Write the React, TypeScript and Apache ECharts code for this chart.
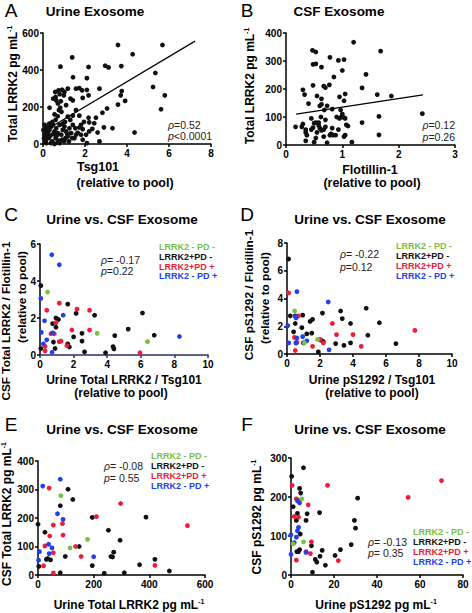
import React, { useEffect, useRef } from "react";
import * as echarts from "echarts";

const FONT = '"Liberation Sans", Arial, Helvetica, sans-serif';
const GREEN = "#79c142";
const BLACK = "#111111";
const RED = "#ee1c3a";
const BLUE = "#1f3ff0";

// Panel A: Urine exosome, Tsg101 vs total LRRK2
const urineExosome: number[][] = [
  [3.57, 535], [5.69, 535], [4.27, 485], [1.39, 468], [0.83, 418], [2.17, 416], [2.96, 423], [3.12, 414],
  [3.73, 421], [5.35, 384], [1.43, 361], [2.09, 356], [0.58, 281], [0.74, 290], [0.91, 293], [1.02, 281],
  [0.6, 254], [0.79, 270], [0.99, 263], [0.49, 245], [0.63, 236], [0.85, 231], [0.71, 219], [0.82, 196],
  [1.18, 299], [1.57, 299], [1.73, 302], [1.86, 290], [2.09, 292], [2.69, 299], [1.31, 245], [1.42, 236],
  [1.89, 249], [2.17, 263], [3.75, 286], [3.7, 263], [3.91, 233], [3.57, 213], [5.24, 308], [5.8, 263],
  [5.62, 188], [3.05, 192], [0.31, 196], [0.76, 183], [0.88, 174], [1.1, 210], [1.57, 183], [1.18, 148],
  [1.42, 153], [1.73, 153], [2.17, 142], [2.52, 142], [2.83, 169], [3.31, 85], [4.36, 62], [2.09, 5],
  [2.69, 14], [2.44, 112], [2.2, 117], [1.81, 103], [1.73, 89], [1.89, 80], [1.54, 85], [0.08, 103],
  [0.13, 85], [0.16, 68], [0.08, 50], [0.24, 59], [0.31, 76], [0.39, 94], [0.47, 103], [0.55, 68],
  [0.63, 85], [0.71, 59], [0.79, 103], [0.87, 50], [0.94, 76], [1.02, 94], [1.1, 68], [1.18, 41],
  [1.26, 85], [1.34, 59], [1.42, 103], [1.5, 32], [1.57, 50], [0.13, 23], [0.28, 32], [0.44, 14],
  [0.6, 32], [0.76, 18], [0.91, 23], [1.07, 32], [1.23, 14], [1.39, 32], [0.16, 5], [0.39, 5],
  [0.55, 0], [0.79, 5], [1.89, 23], [2.05, 50], [1.81, 50], [2.2, 68], [0.05, 30], [0.1, 10],
  [0.2, 40], [0.35, 45], [0.5, 55], [0.65, 45], [0.7, 10], [1.0, 15], [1.15, 55], [0.45, 120],
  [0.6, 130], [0.3, 110], [1.05, 120], [0.95, 110], [2.6, 62], [2.9, 90], [1.65, 60], [1.95, 120],
  [2.35, 82], [0.55, 160], [0.7, 150], [1.3, 130], [0.2, 90], [0.02, 75],
];
const urineFit: number[][] = [[0.28, 85], [7.24, 556]];

// Panel B: CSF exosome, Flotillin-1 vs total LRRK2
const csfExosome: number[][] = [
  [1.2, 367], [0.47, 338], [0.53, 332], [1.68, 335], [0.48, 288], [0.53, 290], [0.63, 278], [0.78, 313],
  [0.93, 302], [1.03, 305], [1.0, 266], [1.42, 252], [0.3, 197], [0.48, 213], [0.67, 210], [0.7, 205],
  [0.77, 215], [0.85, 243], [0.55, 175], [0.63, 165], [0.33, 180], [0.95, 172], [1.05, 182], [1.03, 158],
  [1.35, 204], [1.62, 180], [1.87, 175], [2.42, 112], [1.65, 102], [1.35, 80], [1.65, 36], [1.17, 10],
  [0.6, 140], [0.63, 145], [0.73, 140], [0.68, 125], [0.82, 128], [0.4, 148], [0.45, 95], [0.62, 100],
  [0.7, 90], [0.97, 125], [1.0, 110], [0.98, 100], [1.03, 98], [1.05, 95], [1.07, 72], [1.1, 68],
  [1.05, 35], [1.03, 30], [0.93, 55], [0.95, 95], [0.17, 65], [0.28, 65], [0.3, 75], [0.35, 55],
  [0.35, 45], [0.37, 35], [0.35, 15], [0.45, 55], [0.48, 62], [0.5, 78], [0.53, 80], [0.5, 10],
  [0.53, 25], [0.58, 70], [0.6, 60], [0.63, 52], [0.67, 30], [0.7, 65], [0.73, 8], [0.78, 35],
  [0.8, 40], [0.82, 60], [0.83, 35], [0.88, 35], [0.9, 100], [0.58, 80], [0.67, 55], [0.55, 45],
];
const csfFit: number[][] = [[0.18, 110], [2.43, 179]];

// Panel C: urine total LRRK2/Tsg101 vs CSF total LRRK2/Flotillin-1
const cGreen: number[][] = [[0.45, 3.4], [3.4, 1.17], [6.4, 0.72]];
const cBlack: number[][] = [
  [0.05, 3.75], [0.05, 0.35], [1.65, 2.75], [0.75, 1.7], [0.95, 2.0], [1.1, 1.92], [0.95, 1.5], [0.8, 0.7],
  [0.9, 0.35], [2.15, 2.25], [3.25, 2.15], [6.1, 2.27], [5.25, 1.4], [4.45, 1.05], [6.8, 1.07], [2.5, 1.17],
  [2.0, 0.98], [1.65, 0.6], [1.75, 0.43], [2.5, 0.75], [2.65, 0.17], [3.9, 0.12], [4.35, 0.45], [4.4, 0.33],
];
const cRed: number[][] = [
  [0.4, 2.42], [1.15, 2.8], [2.2, 2.48], [2.95, 2.42], [0.65, 1.15], [0.85, 1.15], [0.95, 1.75], [1.15, 0.72],
  [1.25, 0.75], [1.6, 0.5], [1.9, 1.35], [2.95, 1.35], [0.3, 0.47], [0.3, 0.22], [5.95, 0.12],
];
const cBlue: number[][] = [
  [0.7, 5.42], [1.15, 4.88], [0.05, 3.06], [0.27, 1.85], [0.08, 1.22], [0.4, 0.82], [0.2, 0.6], [0.75, 1.2],
  [0.72, 0.15], [1.38, 2.15], [8.3, 1.0],
];

// Panel D: urine pS1292/Tsg101 vs CSF pS1292/Flotillin-1
const dGreen: number[][] = [[0.46, 3.1], [1.05, 0.8], [1.85, 1.05]];
const dBlack: number[][] = [
  [0.1, 6.85], [0.2, 2.75], [0.5, 2.75], [0.95, 2.8], [0.4, 1.6], [0.5, 2.2], [0.9, 1.9], [1.2, 1.45],
  [1.4, 2.35], [1.55, 2.5], [1.5, 1.5], [2.15, 2.95], [3.25, 3.1], [3.35, 2.55], [3.85, 2.2], [4.8, 3.3],
  [5.6, 2.25], [4.9, 1.35], [6.6, 0.75], [2.95, 0.75], [3.45, 0.62], [3.85, 0.8], [1.9, 0.15], [2.2, 0.9],
  [2.05, 1.0], [1.0, 0.8], [0.55, 0.8],
];
const dRed: number[][] = [
  [0.1, 4.4], [0.7, 2.75], [0.45, 1.2], [0.5, 0.25], [0.6, 0.85], [1.55, 0.55], [2.0, 1.05], [2.2, 0.8],
  [2.75, 2.2], [3.0, 1.4], [4.0, 1.4], [4.5, 0.55], [7.75, 1.7],
];
const dBlue: number[][] = [
  [0.6, 4.5], [2.5, 3.75], [0.5, 2.7], [0.55, 2.6], [0.05, 2.05], [0.1, 0.8], [0.55, 0.8], [0.6, 1.15],
  [0.95, 1.25], [1.2, 0.95], [2.55, 0.3],
];

// Panel E: urine total LRRK2 vs CSF total LRRK2 (pg/mL)
const eGreen: number[][] = [[82, 278], [178, 125], [115, 95]];
const eBlack: number[][] = [
  [0, 178], [3, 30], [25, 150], [35, 58], [45, 53], [30, 55], [80, 243], [108, 301], [125, 265], [195, 202],
  [148, 100], [98, 65], [80, 8], [195, 33], [253, 157], [272, 80], [268, 63], [262, 65], [295, 122], [238, 6],
  [310, 8], [365, 36], [388, 203], [420, 55], [472, 14],
];
const eRed: number[][] = [
  [40, 305], [55, 175], [88, 180], [90, 140], [42, 137], [25, 102], [20, 32], [55, 78], [55, 7], [135, 100],
  [155, 65], [210, 205], [297, 251], [537, 173], [420, 34],
];
const eBlue: number[][] = [
  [17, 312], [80, 336], [70, 215], [90, 195], [38, 108], [50, 95], [40, 75], [5, 82], [2, 52], [200, 64],
];

// Panel F: urine pS1292 vs CSF pS1292 (pg/mL)
const fGreen: number[][] = [[1, 80], [5, 195], [5.8, 85]];
const fBlack: number[][] = [
  [0.3, 253], [1, 175], [5.8, 275], [4, 222], [4.5, 210], [3.5, 190], [2.5, 140], [3, 158], [4.3, 105],
  [7, 140], [7.5, 157], [13.3, 160], [9.5, 75], [10, 7], [11.3, 40], [12, 33], [13.5, 48], [14.5, 63],
  [16, 25], [20.5, 50], [23, 65], [28, 78], [29.5, 140], [30, 120], [31, 197], [3.5, 60], [4, 65], [2.7, 60],
];
const fRed: number[][] = [
  [0.5, 230], [1.5, 150], [2.5, 195], [3.5, 148], [8, 180], [17, 230], [54.5, 199], [70, 242], [9.5, 85],
  [7, 60], [9, 55], [22, 37], [2.5, 38],
];
const fBlue: number[][] = [
  [0, 103], [0, 53], [3, 190], [4, 185], [3.5, 122], [3, 113], [2.5, 97], [1.5, 83], [7, 58],
];

const grids = [
  { left: 43, top: 33, width: 168, height: 111 },
  { left: 286, top: 33, width: 169, height: 112 },
  { left: 40, top: 244, width: 168, height: 111 },
  { left: 287, top: 243, width: 165, height: 111 },
  { left: 38, top: 461, width: 167, height: 114 },
  { left: 291, top: 458, width: 172, height: 117 },
];
const xRanges = [[0, 8, 2], [0, 3, 1], [0, 10, 2], [0, 10, 2], [0, 600, 200], [0, 80, 20]];
const yRanges = [[0, 600, 200], [0, 400, 100], [0, 6, 2], [0, 8, 2], [0, 400, 100], [0, 300, 100]];

const legendLabels = ["LRRK2 - PD -", "LRRK2+PD -", "LRRK2+PD +", "LRRK2 - PD +"];
const legendColors = [GREEN, BLACK, RED, BLUE];

function axis(i: number, r: number[], lineColor = "#000") {
  return {
    type: "value",
    gridIndex: i,
    min: r[0],
    max: r[1],
    interval: r[2],
    axisLine: { show: true, onZero: false, lineStyle: { color: lineColor, width: 1.5 } },
    axisTick: { show: true, inside: false, length: 3, lineStyle: { color: lineColor, width: 1.5 } },
    axisLabel: { fontFamily: FONT, fontWeight: "bold", fontSize: 10, color: "#000", margin: 4 },
    splitLine: { show: false },
  };
}

function txt(text: string, x: number, y: number, size: number, opts: any = {}) {
  return {
    type: "text",
    x,
    y,
    rotation: opts.rotation || 0,
    style: {
      text,
      font: `${opts.weight || "bold"} ${size}px ${FONT}`,
      fill: opts.fill || "#000",
      textAlign: opts.align || "center",
      textVerticalAlign: "middle",
    },
  };
}

// label with a superscript "-1" (pg mL^-1)
function unitTxt(base: string, x: number, y: number, size: number, rotation = 0) {
  return {
    type: "text",
    x,
    y,
    rotation,
    style: {
      text: `{b|${base}}{s|-1}`,
      textAlign: "center",
      textVerticalAlign: "middle",
      rich: {
        b: { fontSize: size, fontWeight: "bold", fontFamily: FONT, fill: "#000", lineHeight: size + 2 },
        s: { fontSize: size * 0.58, fontWeight: "bold", fontFamily: FONT, fill: "#000", verticalAlign: "top", lineHeight: size + 2 },
      },
    },
  };
}

function stat(line: string, x: number, y: number, align = "left") {
  const first = line.slice(0, 1);
  const rest = line.slice(1);
  return {
    type: "text",
    x,
    y,
    style: {
      text: `{i|${first}}{n|${rest}}`,
      textAlign: align,
      textVerticalAlign: "middle",
      rich: {
        i: { fontStyle: "italic", fontSize: 10.5, fontFamily: FONT, fill: "#222" },
        n: { fontSize: 10.5, fontFamily: FONT, fill: "#222" },
      },
    },
  };
}

function legend(x: number, ys: number[]) {
  return legendLabels.map((l, k) => txt(l, x, ys[k], 9, { align: "left", fill: legendColors[k] }));
}

const ROT = Math.PI / 2;

export default function App() {
  const ref = useRef<HTMLDivElement>(null);
  useEffect(() => {
    if (!ref.current) return;
    const chart = echarts.init(ref.current, undefined, { renderer: "svg" });
    const sc = (i: number, data: number[][], color: string) => ({
      type: "scatter",
      xAxisIndex: i,
      yAxisIndex: i,
      data,
      symbolSize: 4.8,
      itemStyle: { color, opacity: 1 },
      silent: true,
    });
    const fit = (i: number, data: number[][]) => ({
      type: "line",
      xAxisIndex: i,
      yAxisIndex: i,
      data,
      symbol: "none",
      lineStyle: { color: "#000", width: 1.2 },
      silent: true,
    });
    const groups = [
      [cGreen, cBlack, cRed, cBlue],
      [dGreen, dBlack, dRed, dBlue],
      [eGreen, eBlack, eRed, eBlue],
      [fGreen, fBlack, fRed, fBlue],
    ];
    const series: any[] = [
      sc(0, urineExosome, BLACK),
      fit(0, urineFit),
      sc(1, csfExosome, BLACK),
      fit(1, csfFit),
    ];
    groups.forEach((g, gi) => {
      [1, 2, 3, 0].forEach((k) => series.push(sc(gi + 2, g[k], legendColors[k])));
    });

    const graphic: any[] = [
      // panel letters
      txt("A", 11, 10, 19, { weight: "normal" }),
      txt("B", 247, 10, 19, { weight: "normal" }),
      txt("C", 11, 214, 19, { weight: "normal" }),
      txt("D", 247, 214, 19, { weight: "normal" }),
      txt("E", 11, 424, 19, { weight: "normal" }),
      txt("F", 247, 424, 19, { weight: "normal" }),
      // titles
      txt("Urine Exosome", 95, 11, 13.5),
      txt("CSF Exosome", 339, 11, 13.5),
      txt("Urine vs. CSF Exosome", 122, 219, 13.5),
      txt("Urine vs. CSF Exosome", 370, 219, 13.5),
      txt("Urine vs. CSF Exosome", 122, 429, 13.5),
      txt("Urine vs. CSF Exosome", 370, 429, 13.5),
      // A axis names
      txt("Tsg101", 98, 167, 12.5),
      txt("(relative to pool)", 125, 183, 12.5),
      unitTxt("Total LRRK2 pg mL", 13, 84, 12, ROT),
      // B axis names
      txt("Flotillin-1", 370, 170, 12.5),
      txt("(relative to pool)", 372, 183, 12.5),
      unitTxt("Total LRRK2 pg mL", 250, 86, 12, ROT),
      // C axis names
      txt("Urine Total LRRK2 / Tsg101", 124, 380, 12),
      txt("(relative to pool)", 121, 393, 12),
      txt("CSF Total LRRK2 / Flotillin-1", 6, 321, 11.8, { rotation: ROT }),
      txt("(relative to pool)", 22, 297, 11.8, { rotation: ROT }),
      // D axis names
      txt("Urine pS1292 / Tsg101", 372, 380, 12),
      txt("(relative to pool)", 372, 393, 12),
      txt("CSF pS1292 / Flotillin-1", 249, 295, 11.8, { rotation: ROT }),
      txt("(relative to pool)", 265, 298, 11.8, { rotation: ROT }),
      // E axis names
      unitTxt("Urine Total LRRK2 pg mL", 129, 605, 12),
      unitTxt("CSF Total LRRK2 pg mL", 7, 514, 12, ROT),
      // F axis names
      unitTxt("Urine pS1292 pg mL", 376, 605, 12),
      unitTxt("CSF pS1292 pg mL", 257, 517, 12, ROT),
      // stats
      stat("\u03C1=0.52", 168, 125),
      stat("p<0.0001", 168, 136),
      stat("\u03C1=0.12", 455, 125, "right"),
      stat("p=0.26", 455, 137, "right"),
      stat("\u03C1= -0.17", 101, 260),
      stat("p=0.22", 101, 271),
      stat("\u03C1= -0.22", 340, 254),
      stat("p=0.12", 340, 267),
      stat("\u03C1= -0.08", 104, 466),
      stat("p= 0.55", 104, 478),
      stat("\u03C1= -0.13", 368, 542),
      stat("p= 0.35", 368, 553),
      // legends
      ...legend(159, [247, 257, 267, 276]),
      ...legend(396, [246, 256, 266, 276]),
      ...legend(151, [456, 466, 476, 486]),
      ...legend(413, [532, 542, 552, 562]),
    ];

    chart.setOption({
      animation: false,
      backgroundColor: "#ffffff",
      grid: grids,
      xAxis: xRanges.map((r, i) => axis(i, r, i === 2 ? "#2c2c6e" : "#000")),
      yAxis: yRanges.map((r, i) => axis(i, r)),
      series,
      graphic,
    });
    return () => chart.dispose();
  }, []);
  return (
    <div
      ref={ref}
      style={{ position: "absolute", left: 0, top: 0, width: 472, height: 613, background: "#fff" }}
    />
  );
}
